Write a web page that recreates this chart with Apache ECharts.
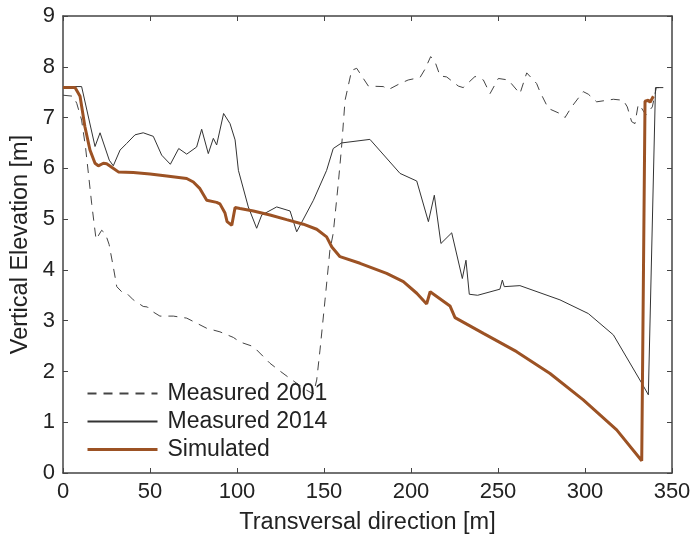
<!DOCTYPE html>
<html>
	<head>
		<meta charset="utf-8">
		<style>
			html,body{
				margin:0;
				padding:0;
				background:#fff;
			}
			#container{
				width:692px;
				height:535px;
			}
		</style>
	</head>
	<body>
		<div id="container"></div>
	<script type="text/javascript" src="https://cdn.jsdelivr.net/npm/echarts@6/dist/echarts.min.js"></script>
	<script>
        // [x (m), elevation (m)]
        var measured2001 = [
            [0,7.44],[5.9,7.42],[7.9,7.28],[10.7,6.95],[13,6.4],[16.5,5.3],[19,4.6],[22.2,4.78],[24.3,4.72],
            [26.5,4.5],[28.9,4.06],[30.9,3.67],[34,3.56],[36.6,3.54],[40.4,3.41],[46.1,3.28],[48.5,3.27],
            [50,3.21],[55.7,3.09],[63.4,3.09],[71.1,3.05],[82.6,2.85],[90.2,2.78],[97.9,2.67],[101.7,2.58],
            [109.4,2.49],[119,2.16],[125,2.0],[130.5,1.86],[140,1.63],[143.9,1.56],[145.8,1.83],[147.7,2.42],
            [150.6,3.41],[153.4,4.39],[155.3,4.72],[158.2,5.7],[160.1,6.42],[162.1,7.34],[165.9,7.93],
            [168.8,7.97],[172.6,7.77],[175.5,7.62],[184.1,7.61],[187,7.55],[193.7,7.67],[198.4,7.74],
            [205.2,7.79],[208,7.95],[211.3,8.2],[213.8,8.1],[216.7,7.82],[220.5,7.8],[227.2,7.62],[230,7.59],
            [236.8,7.81],[241.6,7.74],[245.4,7.47],[250.2,7.77],[255.9,7.74],[262.6,7.47],[266.5,7.88],
            [272.2,7.67],[274.1,7.51],[278.9,7.18],[287.5,7.05],[288.5,7.0],[292.3,7.21],[299,7.51],
            [301.9,7.46],[306.7,7.31],[312.5,7.34],[316.3,7.36],[322,7.34],[324.3,7.21],[326.8,6.92],
            [328.7,6.88],[330.6,7.26],[332.6,7.18],[335,7.05],[338.7,7.21],[341,7.59],[345,7.59]
        ];
        var measured2014 = [
            [0,7.61],[10.7,7.61],[18.4,6.43],[21.3,6.7],[26.6,6.16],[28.9,6.05],[32.8,6.36],[36.6,6.49],
            [41.4,6.66],[46.1,6.7],[51.9,6.63],[56.7,6.26],[61.7,6.08],[66.5,6.39],[71.1,6.28],[76.8,6.42],
            [79.7,6.77],[83.5,6.29],[86.4,6.59],[88.3,6.46],[92.3,7.08],[96,6.88],[98.9,6.56],[100.8,5.96],
            [106.5,5.24],[111.3,4.82],[114.2,5.08],[122.8,5.24],[130.5,5.16],[134.3,4.75],[143.9,5.37],
            [151.5,5.96],[155.3,6.39],[160.1,6.5],[176.4,6.57],[193.7,5.9],[203.3,5.75],[210,4.95],
            [213.4,5.47],[217.2,4.52],[223.4,4.73],[229.5,3.83],[231.6,4.19],[233.5,3.52],[238.3,3.5],
            [251.1,3.62],[252.5,3.8],[253.6,3.67],[262.6,3.69],[285.6,3.41],[301.9,3.14],[316.3,2.72],
            [332.6,1.77],[336.4,1.54],[340.5,7.59],[345,7.59]
        ];
        var simulated = [
            [0,7.59],[6.9,7.59],[9.8,7.42],[12.6,6.82],[15.5,6.36],[18.4,6.1],[20.3,6.05],[23.2,6.1],
            [25.1,6.09],[28,6.02],[31.8,5.93],[40.4,5.92],[50,5.89],[59.6,5.85],[71.1,5.8],[74.9,5.73],
            [78.7,5.6],[82.6,5.37],[88.3,5.33],[90.2,5.3],[93.1,5.12],[94.3,4.95],[97,4.88],[98.9,5.23],
            [101.7,5.21],[109.4,5.16],[119,5.08],[128.5,4.99],[138.1,4.9],[145.8,4.8],[151.5,4.65],
            [154.5,4.45],[159.2,4.26],[170.7,4.13],[186,3.93],[195.6,3.77],[203.3,3.54],[209,3.33],
            [211,3.57],[222.4,3.29],[225.3,3.06],[241.6,2.75],[260.7,2.39],[279.9,1.96],[299,1.44],
            [318.2,0.85],[332.6,0.24],[334.5,7.32],[336.4,7.34],[337.4,7.3],[339.3,7.42]
        ];
        var seriesNames = ['Measured 2001', 'Measured 2014', 'Simulated'];

        var font = '"Liberation Sans", Arial, sans-serif';
        var axisColor = '#444';

        function boxAxis(pos, isX, showLabel) {
            return {
                type: 'value',
                position: pos,
                min: 0,
                max: isX ? 350 : 9,
                interval: isX ? 50 : 1,
                axisLine: { show: true, onZero: false, lineStyle: { color: axisColor, width: 1.5 } },
                axisTick: { show: true, inside: true, length: 5, lineStyle: { color: axisColor, width: 1 } },
                axisLabel: { show: showLabel, color: '#222', fontSize: 22, fontFamily: font, margin: 8 },
                splitLine: { show: false }
            };
        }

        var xMain = boxAxis('bottom', true, true);
        xMain.name = 'Transversal direction [m]';
        xMain.nameLocation = 'middle';
        xMain.nameGap = 38;
        xMain.nameMoveOverlap = false;
        xMain.nameTextStyle = { color: '#222', fontSize: 23.5, fontFamily: font };
        var yMain = boxAxis('left', false, true);
        yMain.name = 'Vertical Elevation [m]';
        yMain.nameLocation = 'middle';
        yMain.nameGap = 30;
        yMain.nameMoveOverlap = false;
        yMain.nameTextStyle = { color: '#222', fontSize: 23.5, fontFamily: font };

        var myChart = echarts.init(document.getElementById('container'));
        var option = {
            backgroundColor: '#fff',
            animation: false,
            grid: { left: 63, right: 20, top: 16, bottom: 62, outerBoundsMode: 'none' },
            legend: {
                orient: 'vertical',
                left: 81,
                top: 377,
                itemWidth: 70,
                itemHeight: 14,
                itemGap: 5,
                data: [
                    { name: seriesNames[0] },
                    { name: seriesNames[1] },
                    { name: seriesNames[2], lineStyle: { width: 3 } }
                ],
                itemStyle: { opacity: 0 },
                textStyle: { color: '#222', fontSize: 23, fontFamily: font, padding: [0, 0, 0, 5] }
            },
            xAxis: [xMain, boxAxis('top', true, false)],
            yAxis: [yMain, boxAxis('right', false, false)],
            series: [
                {
                    name: seriesNames[0],
                    type: 'line',
                    symbol: 'none',
                    data: measured2001,
                    lineStyle: { color: '#444', width: 1, type: [9, 7] },
                    itemStyle: { color: '#444' }
                },
                {
                    name: seriesNames[1],
                    type: 'line',
                    symbol: 'none',
                    data: measured2014,
                    lineStyle: { color: '#333', width: 1 },
                    itemStyle: { color: '#333' }
                },
                {
                    name: seriesNames[2],
                    type: 'line',
                    symbol: 'none',
                    data: simulated,
                    lineStyle: { color: '#9c5224', width: 3 },
                    itemStyle: { color: '#9c5224' }
                }
            ]
        };
        myChart.setOption(option, true);
	</script>
	</body>
</html>
